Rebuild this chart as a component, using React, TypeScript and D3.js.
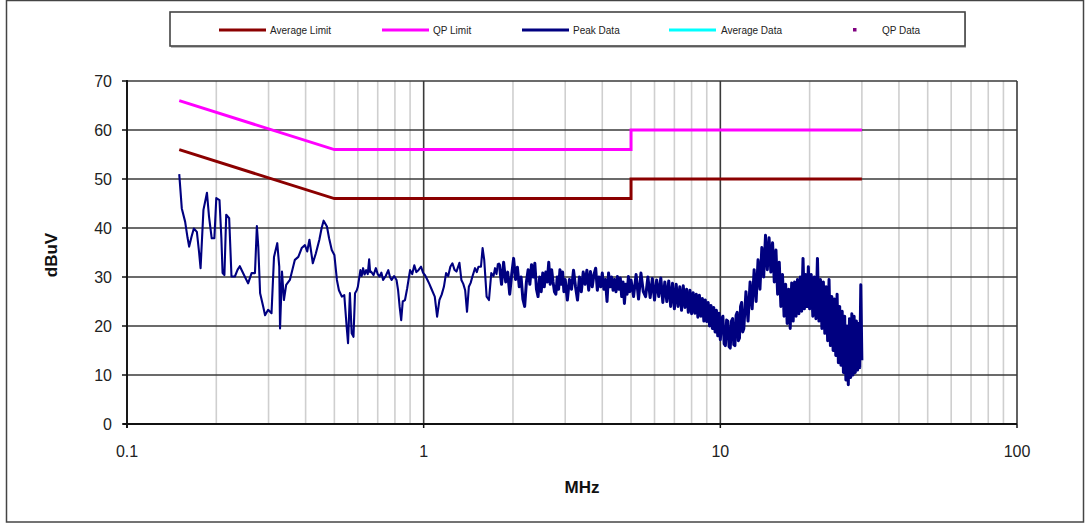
import React from "react";
import * as d3 from "d3";

// ---- data ----
const yTicks = [0, 10, 20, 30, 40, 50, 60, 70];
const xMajorTicks = [0.1, 1, 10, 100];
const xTickLabels = ["0.1", "1", "10", "100"];
const xMinorTicks = [
  0.2, 0.3, 0.4, 0.5, 0.6, 0.7, 0.8, 0.9,
  2, 3, 4, 5, 6, 7, 8, 9,
  20, 30, 40, 50, 60, 70, 80, 90,
];

const qpLimit: [number, number][] = [
  [0.15, 66], [0.5, 56], [5, 56], [5, 60], [30, 60],
];
const avgLimit: [number, number][] = [
  [0.15, 56], [0.5, 46], [5, 46], [5, 50], [30, 50],
];

const legendLabels = ["Average Limit", "QP Limit", "Peak Data", "Average Data", "QP Data"];

// Peak data, low band (MHz, dBuV)
const peakLow: [number, number][] = [
  [0.150, 51.0], [0.153, 44.0], [0.157, 41.3], [0.160, 38.0], [0.162, 36.2],
  [0.165, 38.2], [0.168, 39.9], [0.172, 39.2], [0.175, 35.0], [0.177, 31.8],
  [0.181, 43.7], [0.186, 47.2], [0.189, 42.3], [0.193, 37.9], [0.197, 37.9],
  [0.200, 46.1], [0.205, 45.7], [0.208, 38.0], [0.210, 30.8], [0.213, 30.4],
  [0.216, 42.7], [0.221, 42.0], [0.225, 30.1], [0.231, 30.1], [0.236, 31.5],
  [0.240, 32.2], [0.248, 30.4], [0.256, 28.7], [0.263, 30.8], [0.270, 30.8],
  [0.274, 40.4], [0.277, 36.2], [0.281, 26.7], [0.288, 23.9], [0.292, 22.2],
  [0.299, 23.3], [0.307, 22.6], [0.313, 34.1], [0.321, 36.9], [0.326, 32.1],
  [0.328, 19.5], [0.333, 31.1], [0.338, 25.3], [0.344, 28.4], [0.354, 29.4],
  [0.368, 33.5], [0.378, 34.1], [0.388, 35.9], [0.398, 36.5], [0.405, 35.2],
  [0.412, 37.6], [0.423, 32.8], [0.433, 34.8], [0.445, 37.6], [0.453, 40.0],
  [0.460, 41.5], [0.472, 40.3], [0.480, 37.9], [0.490, 35.5], [0.500, 34.5],
  [0.510, 29.4], [0.518, 27.3], [0.530, 26.0], [0.540, 26.3], [0.550, 19.9],
  [0.556, 16.5], [0.564, 26.7], [0.572, 18.5], [0.580, 17.8], [0.587, 26.7],
  [0.595, 27.3], [0.600, 28.0], [0.612, 31.4], [0.618, 30.2], [0.625, 31.8],
  [0.632, 30.5], [0.640, 31.4], [0.648, 30.6], [0.655, 33.6], [0.660, 31.0],
  [0.665, 31.1], [0.678, 30.4], [0.690, 31.8], [0.700, 30.6], [0.710, 30.1],
  [0.720, 30.9], [0.730, 29.4], [0.745, 30.2], [0.760, 31.4], [0.770, 30.0],
  [0.780, 29.4], [0.795, 30.2], [0.810, 29.4], [0.820, 27.3], [0.830, 23.9],
  [0.840, 21.2], [0.850, 25.0], [0.865, 25.3], [0.880, 27.7], [0.890, 29.6],
  [0.900, 31.4], [0.915, 30.6], [0.930, 32.4], [0.945, 31.0], [0.960, 31.4],
  [0.980, 32.1], [0.995, 30.9], [1.010, 30.4], [1.030, 29.4], [1.045, 28.6],
  [1.060, 27.7], [1.090, 26.0], [1.110, 21.9], [1.130, 25.3], [1.150, 26.4],
  [1.170, 28.0], [1.190, 30.8], [1.210, 30.2], [1.230, 32.1], [1.250, 32.8],
  [1.270, 31.5], [1.290, 31.1], [1.320, 32.9], [1.340, 29.4], [1.360, 28.6],
  [1.380, 27.3], [1.400, 22.9], [1.420, 28.0], [1.440, 28.8], [1.460, 30.1],
  [1.490, 31.8], [1.510, 31.0], [1.530, 32.1], [1.560, 32.1], [1.580, 35.9],
  [1.600, 33.5], [1.630, 26.0], [1.660, 25.3], [1.690, 30.8], [1.720, 30.2],
  [1.740, 31.8], [1.760, 30.6], [1.780, 32.8],
];

// Peak data, dense sweep 1.8 - 5 MHz
const peakMid: [number, number][] = [
  [1.80, 32.5], [1.83, 28.5], [1.86, 33.0], [1.89, 29.0], [1.92, 31.0],
  [1.95, 26.5], [1.98, 30.5], [2.01, 33.8], [2.04, 29.5], [2.07, 32.0],
  [2.10, 28.0], [2.13, 30.0], [2.16, 25.5], [2.19, 24.0], [2.22, 29.0],
  [2.25, 31.5], [2.28, 28.5], [2.31, 32.5], [2.34, 30.0], [2.37, 32.8],
  [2.40, 27.5], [2.43, 26.0], [2.46, 30.0], [2.49, 27.0], [2.52, 30.8],
  [2.55, 28.0], [2.58, 31.0], [2.61, 29.0], [2.64, 33.0], [2.67, 28.5],
  [2.70, 31.5], [2.73, 29.0], [2.76, 27.0], [2.79, 26.5], [2.82, 30.0],
  [2.85, 27.5], [2.88, 31.5], [2.91, 28.5], [2.94, 31.0], [2.97, 27.0],
  [3.00, 29.5], [3.05, 25.3], [3.10, 29.5], [3.15, 27.5], [3.20, 31.4],
  [3.25, 28.0], [3.30, 25.3], [3.35, 30.0], [3.40, 27.0], [3.45, 31.0],
  [3.50, 28.5], [3.55, 31.4], [3.60, 27.3], [3.65, 31.1], [3.70, 28.0],
  [3.75, 30.5], [3.80, 31.8], [3.85, 27.3], [3.90, 30.0], [3.95, 28.0],
  [4.00, 30.8], [4.05, 27.5], [4.10, 29.5], [4.15, 25.0], [4.20, 30.8],
  [4.25, 28.0], [4.30, 30.0], [4.35, 27.3], [4.40, 29.5], [4.45, 27.0],
  [4.50, 30.1], [4.55, 27.5], [4.60, 29.8], [4.65, 26.0], [4.70, 29.0],
  [4.75, 24.6], [4.80, 28.5], [4.85, 26.5], [4.90, 30.1], [4.95, 27.0],
  [5.00, 29.4],
];

// Peak data, dense sweep 5 - 30 MHz
const peakHigh: [number, number][] = [
  [5.1, 26.0], [5.2, 30.5], [5.3, 25.5], [5.4, 30.8], [5.5, 27.0],
  [5.6, 26.0], [5.7, 30.0], [5.8, 25.8], [5.9, 29.7], [6.0, 25.3],
  [6.1, 29.4], [6.2, 26.0], [6.3, 29.8], [6.4, 24.8], [6.5, 29.0],
  [6.6, 25.0], [6.7, 29.2], [6.8, 24.0], [6.9, 28.7], [7.0, 23.5],
  [7.1, 28.5], [7.2, 24.0], [7.3, 28.0], [7.4, 23.2], [7.5, 28.2],
  [7.6, 23.8], [7.7, 27.5], [7.8, 22.8], [7.9, 27.3], [8.0, 22.5],
  [8.1, 26.8], [8.2, 22.6], [8.3, 26.5], [8.4, 21.8], [8.5, 26.3],
  [8.6, 22.0], [8.7, 25.6], [8.8, 21.0], [8.9, 25.3], [9.0, 20.9],
  [9.1, 24.8], [9.2, 20.0], [9.3, 24.2], [9.4, 19.5], [9.5, 23.8],
  [9.6, 18.8], [9.7, 23.2], [9.8, 18.0], [9.9, 22.6], [10.0, 17.2],
  [10.1, 21.4], [10.2, 22.0], [10.3, 16.4], [10.4, 16.0], [10.5, 21.2],
  [10.6, 21.0], [10.7, 15.8], [10.8, 15.5], [10.9, 21.0], [11.0, 21.5],
  [11.1, 16.2], [11.2, 16.0], [11.3, 22.2], [11.4, 22.8], [11.5, 17.0],
  [11.6, 17.5], [11.7, 24.0], [11.8, 24.8], [11.9, 18.8], [12.0, 19.5],
  [12.2, 27.0], [12.4, 21.0], [12.6, 29.0], [12.8, 23.5], [13.0, 31.5],
  [13.2, 25.0], [13.4, 33.5], [13.6, 27.5], [13.8, 36.0], [14.0, 30.0],
  [14.2, 38.5], [14.4, 31.5], [14.6, 38.0], [14.8, 31.0], [15.0, 37.0],
  [15.2, 29.0], [15.4, 35.5], [15.6, 26.5], [15.8, 33.0], [16.0, 24.0],
  [16.2, 30.5], [16.4, 22.0], [16.6, 28.5], [16.8, 20.5], [17.0, 27.5],
  [17.2, 19.5], [17.4, 28.8], [17.6, 21.0], [17.8, 29.0], [18.0, 22.0],
  [18.2, 29.5], [18.4, 22.5], [18.6, 30.0], [18.8, 23.0], [19.0, 33.8],
  [19.2, 23.5], [19.4, 30.5], [19.6, 24.0], [19.8, 32.1], [20.0, 23.5],
  [20.25, 30.5], [20.5, 22.0], [20.75, 30.0], [21.0, 21.5], [21.25, 33.8],
  [21.5, 21.0], [21.75, 29.5], [22.0, 19.5], [22.25, 29.0], [22.5, 18.5],
  [22.75, 28.0], [23.0, 17.0], [23.25, 29.5], [23.5, 16.0], [23.75, 26.0],
  [24.0, 15.0], [24.25, 25.5], [24.5, 14.0], [24.75, 26.5], [25.0, 12.5],
  [25.25, 24.0], [25.5, 12.0], [25.75, 23.0], [26.0, 10.5], [26.25, 22.0],
  [26.5, 9.0], [26.75, 20.0], [27.0, 8.0], [27.25, 21.5], [27.5, 9.5],
  [27.75, 22.5], [28.0, 10.0], [28.25, 22.0], [28.5, 10.5], [28.75, 21.0],
  [29.0, 11.0], [29.25, 20.5], [29.5, 11.5], [29.75, 28.4], [30.0, 13.0],
];

// ---- layout ----
const W = 1091;
const H = 529;
const X0 = 127;
const X1 = 1017;
const Y0 = 424;
const Y1 = 81;

const COLORS = {
  avgLimit: "#8B0000",
  qpLimit: "#FF00FF",
  peak: "#000080",
  avgData: "#00FFFF",
  qpData: "#800080",
};

export default function App() {
  const x = d3.scaleLog().domain([0.1, 100]).range([X0, X1]);
  const y = d3.scaleLinear().domain([0, 70]).range([Y0, Y1]);
  const line = d3
    .line<[number, number]>()
    .x((d) => x(d[0]))
    .y((d) => y(d[1]));

  const font = "'Liberation Sans', Arial, sans-serif";

  const legendItems = [
    { label: legendLabels[0], color: COLORS.avgLimit, lx: 219, tx: 270, type: "line" },
    { label: legendLabels[1], color: COLORS.qpLimit, lx: 382, tx: 433, type: "line" },
    { label: legendLabels[2], color: COLORS.peak, lx: 522, tx: 573, type: "line" },
    { label: legendLabels[3], color: COLORS.avgData, lx: 669, tx: 721, type: "line" },
    { label: legendLabels[4], color: COLORS.qpData, lx: 853, tx: 882, type: "marker" },
  ];

  return (
    <svg
      width={W}
      height={H}
      style={{ position: "absolute", left: 0, top: 0, background: "#fff" }}
    >
      <rect x={0} y={0} width={W} height={H} fill="#fff" />
      {/* outer frame */}
      <rect x={6.5} y={0.5} width={1077} height={521.5} fill="none" stroke="#444" strokeWidth={1.5} />

      {/* legend */}
      <rect x={171} y={13} width={795} height={35} fill="#777" opacity={0.5} />
      <rect x={170} y={12} width={795} height={34} fill="#fff" stroke="#444" strokeWidth={1.6} />
      {legendItems.map((it, i) => (
        <g key={i}>
          {it.type === "line" ? (
            <line x1={it.lx} x2={it.lx + 47} y1={30} y2={30} stroke={it.color} strokeWidth={3} />
          ) : (
            <rect x={it.lx} y={28} width={3.5} height={3.5} fill={it.color} />
          )}
          <text x={it.tx} y={33.5} fontFamily={font} fontSize={10} fill="#222">
            {it.label}
          </text>
        </g>
      ))}

      {/* minor vertical gridlines */}
      {xMinorTicks.map((t) => (
        <line key={"m" + t} x1={x(t)} x2={x(t)} y1={Y1} y2={Y0} stroke="#cfcfcf" strokeWidth={1.6} />
      ))}
      {/* horizontal gridlines */}
      {yTicks.map((t) => (
        <line key={"h" + t} x1={X0} x2={X1} y1={y(t)} y2={y(t)} stroke="#3a3a3a" strokeWidth={1.6} />
      ))}
      {/* major vertical gridlines */}
      {xMajorTicks.map((t) => (
        <line key={"v" + t} x1={x(t)} x2={x(t)} y1={Y1} y2={Y0} stroke="#3a3a3a" strokeWidth={1.6} />
      ))}

      {/* axes */}
      <line x1={X0} x2={X0} y1={Y1 - 1} y2={Y0 + 4} stroke="#111" strokeWidth={1.8} />
      <line x1={X0 - 4} x2={X1} y1={Y0} y2={Y0} stroke="#111" strokeWidth={1.8} />
      {yTicks.map((t) => (
        <line key={"yt" + t} x1={X0 - 5} x2={X0} y1={y(t)} y2={y(t)} stroke="#111" strokeWidth={1.5} />
      ))}
      {xMajorTicks.map((t) => (
        <line key={"xt" + t} x1={x(t)} x2={x(t)} y1={Y0} y2={Y0 + 4} stroke="#111" strokeWidth={1.5} />
      ))}

      {/* tick labels */}
      {yTicks.map((t) => (
        <text
          key={"yl" + t}
          x={112}
          y={y(t) + 5.5}
          textAnchor="end"
          fontFamily={font}
          fontSize={16}
          fill="#222"
        >
          {t}
        </text>
      ))}
      {xMajorTicks.map((t, i) => (
        <text
          key={"xl" + t}
          x={x(t)}
          y={457}
          textAnchor="middle"
          fontFamily={font}
          fontSize={16}
          fill="#222"
        >
          {xTickLabels[i]}
        </text>
      ))}

      {/* axis titles */}
      <text x={582} y={493} textAnchor="middle" fontFamily={font} fontSize={17} fontWeight="bold" fill="#111">
        MHz
      </text>
      <text
        transform={`translate(57,${255}) rotate(-90)`}
        textAnchor="middle"
        fontFamily={font}
        fontSize={17}
        fontWeight="bold"
        fill="#111"
      >
        dBuV
      </text>

      {/* data */}
      <path d={line(peakLow) || ""} fill="none" stroke={COLORS.peak} strokeWidth={2.1} strokeLinejoin="round" />
      <path
        d={line([peakLow[peakLow.length - 1], ...peakMid, ...peakHigh]) || ""}
        fill="none"
        stroke={COLORS.peak}
        strokeWidth={3}
        strokeLinejoin="round"
      />
      <path d={line(avgLimit) || ""} fill="none" stroke={COLORS.avgLimit} strokeWidth={3} />
      <path d={line(qpLimit) || ""} fill="none" stroke={COLORS.qpLimit} strokeWidth={3} />
    </svg>
  );
}
